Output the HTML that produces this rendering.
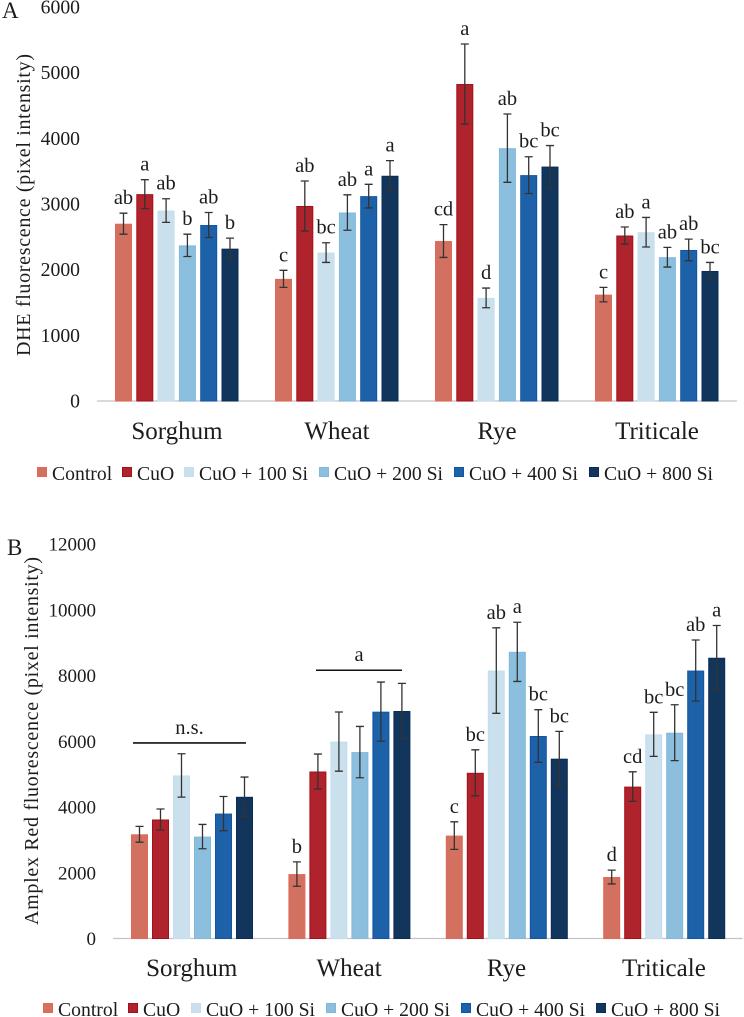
<!DOCTYPE html>
<html lang="en">
<head>
<meta charset="utf-8">
<title>DHE and Amplex Red fluorescence charts</title>
<style>
html,body{margin:0;padding:0;background:#fff;width:744px;height:1017px;overflow:hidden}
svg{display:block;font-family:"Liberation Serif",serif;fill:#1c1c1c;filter:blur(.35px)}
</style>
</head>
<body>
<svg id="figure" xmlns="http://www.w3.org/2000/svg" width="744" height="1017" viewBox="0 0 744 1017">
<rect x="0" y="0" width="744" height="1017" fill="#fff"></rect>
<text x="2" y="18" font-size="23">A</text>
<text x="7" y="555" font-size="23">B</text>
<text transform="translate(30 205) rotate(-90)" text-anchor="middle" font-size="20" textLength="302">DHE fluorescence (pixel intensity)</text>
<text transform="translate(38 741) rotate(-90)" text-anchor="middle" font-size="20" textLength="368">Amplex Red fluorescence (pixel intensity)</text>
<g id="panelA"></g>
<g id="panelB"></g>
</svg>
<script>
const categories = ['Sorghum', 'Wheat', 'Rye', 'Triticale'];
const seriesNames = ['Control', 'CuO', 'CuO + 100 Si', 'CuO + 200 Si', 'CuO + 400 Si', 'CuO + 800 Si'];

const ticksA = [0, 1000, 2000, 3000, 4000, 5000, 6000];
const controlA = [2700, 1860, 2436, 1620];
const cuoA = [3150, 2970, 4827, 2520];
const si100A = [2900, 2260, 1570, 2570];
const si200A = [2370, 2870, 3850, 2190];
const si400A = [2680, 3120, 3440, 2300];
const si800A = [2320, 3430, 3570, 1980];
const errControlA = [160, 130, 250, 110];
const errCuoA = [220, 380, 610, 130];
const errSi100A = [180, 150, 150, 225];
const errSi200A = [170, 270, 520, 150];
const errSi400A = [190, 180, 280, 165];
const errSi800A = [160, 230, 320, 130];
const lettersControlA = ['ab', 'c', 'cd', 'c'];
const lettersCuoA = ['a', 'ab', 'a', 'ab'];
const lettersSi100A = ['ab', 'bc', 'd', 'a'];
const lettersSi200A = ['b', 'ab', 'ab', 'ab'];
const lettersSi400A = ['ab', 'a', 'bc', 'ab'];
const lettersSi800A = ['b', 'a', 'bc', 'bc'];

const ticksB = [0, 2000, 4000, 6000, 8000, 10000, 12000];
const controlB = [3170, 1960, 3130, 1870];
const cuoB = [3620, 5080, 5040, 4620];
const si100B = [4960, 5990, 8150, 6210];
const si200B = [3100, 5670, 8720, 6260];
const si400B = [3800, 6900, 6160, 8150];
const si800B = [4310, 6920, 5470, 8540];
const errControlB = [240, 370, 420, 210];
const errCuoB = [320, 530, 700, 450];
const errSi100B = [660, 900, 1300, 670];
const errSi200B = [370, 780, 900, 850];
const errSi400B = [520, 900, 800, 930];
const errSi800B = [600, 840, 830, 980];
const lettersControlB = ['', 'b', 'c', 'd'];
const lettersCuoB = ['', '', 'bc', 'cd'];
const lettersSi100B = ['', '', 'ab', 'bc'];
const lettersSi200B = ['', '', 'a', 'bc'];
const lettersSi400B = ['', '', 'bc', 'ab'];
const lettersSi800B = ['', '', 'bc', 'a'];
const significanceValues = [5950, 8160];
const significanceLabels = ['n.s.', 'a'];

const fills = ['#d37161', '#ae232c', '#cae0ed', '#8bbfdd', '#1d62a9', '#12355c'];
const strokes = ['#e2685a', '#a60f17', '#c4deee', '#7fb9dc', '#1156a6', '#0b2b5b'];
const NS = 'http://www.w3.org/2000/svg';

function mk(parent, tag, attrs, text) {
  const el = document.createElementNS(NS, tag);
  for (const k in attrs) el.setAttribute(k, attrs[k]);
  if (text !== undefined) el.textContent = text;
  parent.appendChild(el);
  return el;
}

function drawPanel(root, cfg) {
  const yOf = v => cfg.y0 - (v / cfg.yMax) * (cfg.y0 - cfg.yTop);
  const bandOf = i => cfg.xStart + i * cfg.band;

  cfg.ticks.forEach(t => {
    const tick = mk(root, 'text', {x: cfg.tickRight, y: yOf(t) + 6.5, 'text-anchor': 'end', 'font-size': cfg.tickSize}, String(t));
    
    
  });

  const axis = mk(root, 'line', {x1: cfg.xStart, x2: bandOf(categories.length), y1: cfg.y0, y2: cfg.y0, stroke: '#c4c4c4', 'stroke-width': 1.2});
  
  

  categories.forEach((cat, c) => {
    const groupLeft = bandOf(c) + cfg.groupPad;
    const label = mk(root, 'text', {x: bandOf(c) + cfg.band / 2, y: cfg.catY, 'text-anchor': 'middle', 'font-size': 25}, cat);
    
    

    cfg.values.forEach((series, s) => {
      const v = series[c];
      const e = cfg.errors[s][c];
      const x = groupLeft + s * cfg.pitch;
      const cx = x + cfg.barW / 2;
      const bar = mk(root, 'rect', {x: x + .5, y: yOf(v) + .5, width: cfg.barW - 1, height: cfg.y0 - yOf(v) - .5, fill: fills[s], stroke: strokes[s], 'stroke-width': 1});
      
      

      const top = yOf(v + e);
      const bottom = yOf(v - e);
      const err = mk(root, 'path', {d: 'M' + (cx - 4) + ' ' + top + 'H' + (cx + 4) + 'M' + cx + ' ' + top + 'V' + bottom + 'M' + (cx - 4) + ' ' + bottom + 'H' + (cx + 4), fill: 'none', stroke: '#333', 'stroke-width': 1.3});
      
      

      const letter = cfg.letters[s][c];
      if (letter) {
        const t = mk(root, 'text', {x: cx, y: top - 9, 'text-anchor': 'middle', 'font-size': 20.5}, letter);
        
        
      }
    });
  });

  seriesNames.forEach((name, s) => {
    const sw = mk(root, 'rect', {x: cfg.legendX[s] + .5, y: cfg.legendY - 12.5, width: 9, height: 9, fill: fills[s], stroke: strokes[s], 'stroke-width': 1});
    
    
    const t = mk(root, 'text', {x: cfg.legendX[s] + 15, y: cfg.legendY, 'font-size': 19.7}, name);
    
    
  });

  return yOf;
}

drawPanel(document.getElementById('panelA'), {
  y0: 401, yTop: 7, yMax: 6000, ticks: ticksA, tickRight: 80, tickSize: 19.7,
  xStart: 97, band: 160, groupPad: 18, pitch: 21.3, barW: 17, catY: 439,
  values: [controlA, cuoA, si100A, si200A, si400A, si800A],
  errors: [errControlA, errCuoA, errSi100A, errSi200A, errSi400A, errSi800A],
  letters: [lettersControlA, lettersCuoA, lettersSi100A, lettersSi200A, lettersSi400A, lettersSi800A],
  legendX: [37, 122, 184, 319, 454, 589], legendY: 480
});

const yOfB = drawPanel(document.getElementById('panelB'), {
  y0: 938.5, yTop: 544, yMax: 12000, ticks: ticksB, tickRight: 96, tickSize: 19,
  xStart: 113, band: 157.4, groupPad: 18, pitch: 21, barW: 17, catY: 976,
  values: [controlB, cuoB, si100B, si200B, si400B, si800B],
  errors: [errControlB, errCuoB, errSi100B, errSi200B, errSi400B, errSi800B],
  letters: [lettersControlB, lettersCuoB, lettersSi100B, lettersSi200B, lettersSi400B, lettersSi800B],
  legendX: [43, 128, 191, 326, 461, 596], legendY: 1016
});

const panelB = document.getElementById('panelB');
significanceValues.forEach((v, i) => {
  const left = i === 0 ? 133 : 316;
  const right = i === 0 ? 246 : 402;
  const line = mk(panelB, 'line', {x1: left, x2: right, y1: yOfB(v), y2: yOfB(v), stroke: '#111', 'stroke-width': 1.6});
  
  
  const t = mk(panelB, 'text', {x: (left + right) / 2, y: yOfB(v) - 9, 'text-anchor': 'middle', 'font-size': 20.5}, significanceLabels[i]);
  
  
});
</script>
</body>
</html>
